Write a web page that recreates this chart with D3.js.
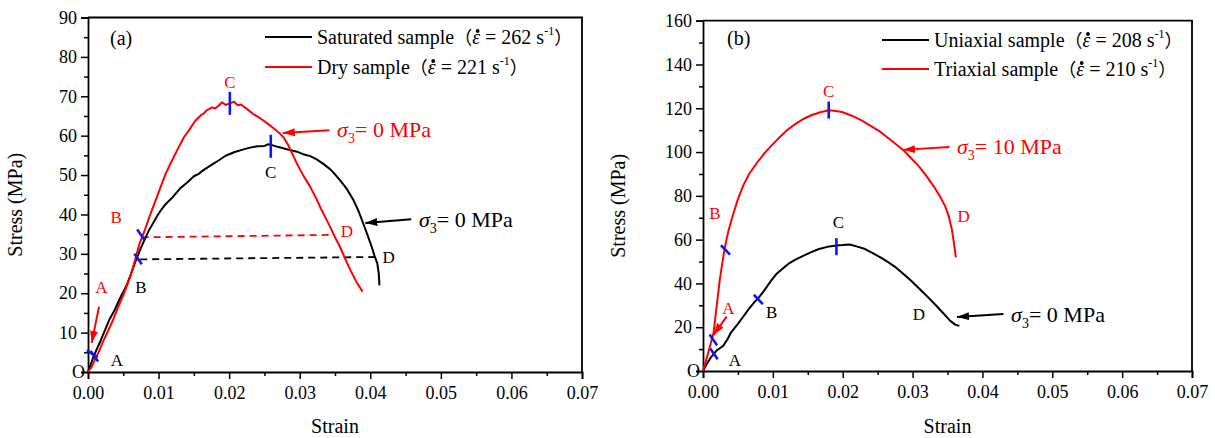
<!DOCTYPE html>
<html><head><meta charset="utf-8">
<script src="https://cdn.jsdelivr.net/npm/d3@7"></script>
<style>body{margin:0;background:#fff} svg{display:block}</style>
</head><body><svg id="c" width="1215" height="438"></svg>
<script>
// ---------- data ----------
const strainTicks = [0, 0.01, 0.02, 0.03, 0.04, 0.05, 0.06, 0.07];
const stressTicksA = [10, 20, 30, 40, 50, 60, 70, 80, 90];
const stressTicksB = [20, 40, 60, 80, 100, 120, 140, 160];

// panel (a)
const saturated = [[0,0],[0.0003,1.5],[0.0008,4],[0.0012,5.6],[0.0018,8],[0.0025,11],[0.003,13.2],[0.0038,15.8],[0.0045,18.6],[0.0054,21.7],[0.006,24.5],[0.0068,28.4],[0.0075,31.5],[0.0082,34.3],[0.0087,36.2],[0.0092,37.7],[0.0098,39.6],[0.0103,41],[0.011,42.6],[0.012,44.4],[0.013,46.5],[0.0141,48.2],[0.015,49.7],[0.0157,50.3],[0.0163,51.2],[0.0175,52.6],[0.0185,53.7],[0.0195,54.9],[0.0207,55.8],[0.0218,56.4],[0.0228,56.9],[0.024,57.3],[0.025,57.4],[0.0255,57.8],[0.0261,57.6],[0.027,57.1],[0.0283,56.5],[0.0295,56],[0.0305,55.3],[0.0315,54.8],[0.0324,54.0],[0.0333,52.9],[0.0343,51.5],[0.035,50.2],[0.0357,48.7],[0.0367,46.4],[0.0376,43.7],[0.0383,41],[0.039,37.7],[0.0396,34.8],[0.0402,31.8],[0.0406,29.5],[0.041,27.5],[0.0412,25],[0.0413,22]];
const dry = [[0,0],[0.0005,1.2],[0.001,3.2],[0.0015,5],[0.002,7.2],[0.0027,9.9],[0.0035,13],[0.0043,16.6],[0.005,19.5],[0.006,24.2],[0.0066,28],[0.0073,32.6],[0.008,35.8],[0.0087,39.4],[0.0095,43.2],[0.0103,47],[0.011,50.3],[0.0116,52.6],[0.012,54],[0.0128,56.9],[0.0136,59.6],[0.0144,61.6],[0.0152,63.8],[0.016,65.2],[0.0164,65.6],[0.0168,66.4],[0.0176,67.2],[0.018,66.9],[0.0185,67.6],[0.019,68.5],[0.0195,67.8],[0.0201,68.2],[0.0207,68.6],[0.0212,67.7],[0.0217,67.9],[0.0225,66.8],[0.0234,65.5],[0.0245,64.3],[0.0255,63],[0.0263,61.9],[0.0271,60.7],[0.0277,59.6],[0.0284,57.5],[0.029,55.2],[0.0298,52.2],[0.0306,49.6],[0.0315,47],[0.0323,44.2],[0.033,41.5],[0.0337,39],[0.0343,36.9],[0.035,34.2],[0.0357,31.8],[0.0365,28.5],[0.0372,25.8],[0.038,23],[0.0389,20.4]];
const unloadDry = [[0.0076, 34.2], [0.0345, 34.8]];
const unloadSat = [[0.0074, 28.6], [0.0411, 29.2]];
const legendNamesA = ["Saturated sample", "Dry sample"];
const legendRatesA = [262, 221];
const marksA = [[0.0006, 4.6, "a"], [0.0009, 4.0, "s"], [0.0075, 34.8, "s"], [0.0071, 28.7, "s"], [0.0201, 68.2, "v"], [0.0259, 57.3, "v"]];
const pointLabelsA = [["A", 0.0019, 21.7, "red"], ["A", 0.0041, 3.0, "black"], ["B", 0.0040, 39.4, "red"], ["B", 0.0075, 21.7, "black"], ["C", 0.0201, 73.5, "red"], ["C", 0.0259, 50.8, "black"], ["D", 0.0367, 35.8, "red"], ["D", 0.0426, 29.3, "black"]];
const arrowsA = [[0.00156, 16.6, 0.00052, 7.4, "red"], [0.0342, 61.4, 0.0276, 60.7, "red"], [0.0458, 38.8, 0.0393, 37.8, "black"]];
const sigmaA = [[0.0353, 61.4, "0", "red"], [0.0469, 38.6, "0", "black"]];

// panel (b)
const uniaxial = [[0,0],[0.0005,3],[0.0011,6.1],[0.0015,7.6],[0.002,9.5],[0.0029,11.5],[0.0035,14.5],[0.004,17.5],[0.005,21.5],[0.0058,25],[0.0066,28.5],[0.0073,31.2],[0.008,33.6],[0.0087,36.5],[0.0094,39.7],[0.01,42.3],[0.0105,44.3],[0.0113,46.5],[0.0122,48.9],[0.0133,51],[0.0144,52.7],[0.0155,54.3],[0.0166,55.7],[0.0178,56.7],[0.0191,57.3],[0.02,57.5],[0.021,57.8],[0.0221,56.8],[0.0232,55.7],[0.0243,53.8],[0.0254,51.9],[0.0265,49.7],[0.0276,47.3],[0.0287,44.3],[0.0298,41.2],[0.0309,37.8],[0.032,34.4],[0.0332,30.5],[0.0343,26.7],[0.0354,22.9],[0.0361,21.2],[0.0367,20.6]];
const triaxial = [[0,0],[0.0004,4.5],[0.0008,9],[0.0015,17.2],[0.0019,28],[0.0024,41.6],[0.0028,50],[0.0031,56],[0.0036,63.5],[0.0043,71.5],[0.005,78.5],[0.0058,85],[0.0066,90],[0.0077,95],[0.0088,99.5],[0.0099,103.3],[0.011,106.9],[0.0121,110.2],[0.0133,113],[0.0144,115.2],[0.0155,116.8],[0.0168,118.2],[0.018,119.1],[0.019,118.8],[0.0199,118.3],[0.0213,116.6],[0.0227,114.5],[0.024,112],[0.0254,109.2],[0.027,105.2],[0.0287,100.8],[0.0298,97.2],[0.031,93.1],[0.032,89],[0.0331,84],[0.034,79.3],[0.0347,75],[0.0352,70.5],[0.0356,65],[0.0359,59],[0.0362,51.9]];
const legendNamesB = ["Uniaxial sample", "Triaxial sample"];
const legendRatesB = [208, 210];
const marksB = [[0.00157, 7.8, "s"], [0.00148, 14.2, "s"], [0.00322, 55.3, "b"], [0.00792, 32.7, "b"], [0.0180, 119.2, "v"], [0.0191, 56.8, "v"]];
const pointLabelsB = [["A", 0.00363, 28.6, "red"], ["A", 0.00458, 5.0, "black"], ["B", 0.0017, 72.0, "red"], ["B", 0.00983, 27.1, "black"], ["C", 0.0180, 128, "red"], ["C", 0.0194, 67.9, "black"], ["D", 0.0373, 71, "red"], ["D", 0.0309, 26, "black"]];
const arrowsB = [[0.00339, 24.8, 0.00148, 16.4, "red"], [0.03527, 102.3, 0.02863, 101, "red"], [0.04301, 26, 0.03636, 24.7, "black"]];
const sigmaB = [[0.03636, 102.3, "10", "red"], [0.0441, 25.6, "0", "black"]];

// ---------- drawing ----------
const RED = "#ff0000", BLUE = "#1414f0";
const FONT = "'Liberation Serif','Times New Roman',serif";
const svg = d3.select("#c");
const defs = svg.append("defs");
[["red", RED], ["black", "#000"]].forEach(([k, c]) => {
  defs.append("marker").attr("id", "ah-" + k).attr("markerUnits", "userSpaceOnUse")
    .attr("markerWidth", 14).attr("markerHeight", 10).attr("refX", 12).attr("refY", 4)
    .attr("orient", "auto")
    .append("path").attr("d", "M0,0 L12,4 L0,8 Z").attr("fill", c);
});

function panel(cfg) {
  const x = d3.scaleLinear().domain([0, 0.07]).range([cfg.left, cfg.right]);
  const y = d3.scaleLinear().domain([0, cfg.ymax]).range([cfg.bottom, cfg.top]);
  const g = svg.append("g");

  // minor ticks
  const xMinor = d3.range(0.005, 0.07, 0.01);
  const yMinor = d3.range(cfg.ystep / 2, cfg.ymax, cfg.ystep);
  g.append("g").attr("transform", `translate(0,${cfg.bottom})`)
    .call(d3.axisBottom(x).tickValues(xMinor).tickSize(4).tickFormat(""))
    .call(a => a.select(".domain").remove());
  g.append("g").attr("transform", `translate(${cfg.left},0)`)
    .call(d3.axisLeft(y).tickValues(yMinor).tickSize(4).tickFormat(""))
    .call(a => a.select(".domain").remove());

  // major axes
  g.append("g").attr("transform", `translate(0,${cfg.bottom})`)
    .call(d3.axisBottom(x).tickValues(strainTicks).tickSize(7).tickPadding(7).tickFormat(d3.format(".2f")));
  g.append("g").attr("transform", `translate(${cfg.left},0)`)
    .call(d3.axisLeft(y).tickValues(cfg.yticks).tickSize(7).tickPadding(4).tickFormat(d3.format("d")));
  g.selectAll(".tick line").attr("stroke", "#000").attr("stroke-width", 1.5);
  g.selectAll(".domain").attr("stroke", "#000").attr("stroke-width", 1.8);
  g.selectAll(".tick text").attr("font-family", FONT).attr("font-size", 18).attr("fill", "#000");

  // frame top/right
  g.append("path").attr("d", `M${cfg.left},${cfg.top}H${cfg.right}V${cfg.bottom}`)
    .attr("fill", "none").attr("stroke", "#000").attr("stroke-width", 1.8);

  // axis titles
  g.append("text").attr("x", (cfg.left + cfg.right) / 2).attr("y", 433)
    .attr("text-anchor", "middle").attr("font-family", FONT).attr("font-size", 20).text("Strain");
  g.append("text").attr("transform", `translate(${cfg.left - cfg.ytitleOff},${(cfg.top + cfg.bottom) / 2 + 10}) rotate(-90)`)
    .attr("text-anchor", "middle").attr("font-family", FONT).attr("font-size", 20).text("Stress (MPa)");

  // dashed unloading lines
  const line = d3.line().x(d => x(d[0])).y(d => y(d[1]));
  (cfg.dashes || []).forEach(([data, col]) => {
    g.append("path").attr("d", line(data)).attr("fill", "none").attr("stroke", col)
      .attr("stroke-width", 1.8).attr("stroke-dasharray", "7,5");
  });

  // curves
  cfg.series.forEach(([data, col]) => {
    g.append("path").attr("d", line(data)).attr("fill", "none").attr("stroke", col)
      .attr("stroke-width", 2).attr("stroke-linejoin", "round");
  });

  // blue marks
  const kinds = { v: [90, cfg.vlen], s: [55, 13], a: [35, 13], b: [46, 13] };
  cfg.marks.forEach(([mx, my, k]) => {
    const [ang, len] = kinds[k];
    const r = ang * Math.PI / 180, dx = Math.cos(r) * len / 2, dy = Math.sin(r) * len / 2;
    g.append("line").attr("x1", x(mx) - dx).attr("y1", y(my) - dy)
      .attr("x2", x(mx) + dx).attr("y2", y(my) + dy)
      .attr("stroke", BLUE).attr("stroke-width", 2.6);
  });

  // arrows
  cfg.arrows.forEach(([x1, y1, x2, y2, col]) => {
    g.append("line").attr("x1", x(x1)).attr("y1", y(y1)).attr("x2", x(x2)).attr("y2", y(y2))
      .attr("stroke", col === "red" ? RED : "#000").attr("stroke-width", 2)
      .attr("marker-end", `url(#ah-${col})`);
  });

  // point labels
  cfg.labels.forEach(([t, lx, ly, col]) => {
    g.append("text").attr("x", x(lx)).attr("y", y(ly) + 6).attr("text-anchor", "middle")
      .attr("font-family", FONT).attr("font-size", 17).attr("fill", col === "red" ? RED : "#000").text(t);
  });
  g.append("text").attr("x", cfg.left - 3).attr("y", cfg.bottom + 6).attr("text-anchor", "end")
    .attr("font-family", FONT).attr("font-size", 18).text("O");

  // sigma annotations
  cfg.sigma.forEach(([sx, sy, val, col]) => {
    const t = g.append("text").attr("x", x(sx)).attr("y", y(sy) + 7)
      .attr("font-family", FONT).attr("font-size", 22).attr("fill", col === "red" ? RED : "#000");
    t.append("tspan").attr("font-style", "italic").text("σ");
    t.append("tspan").attr("font-size", 14).attr("dy", 6).text("3");
    t.append("tspan").attr("dy", -6).text("= " + val + " MPa");
  });

  // panel tag
  g.append("text").attr("x", cfg.tagX).attr("y", 45).attr("font-family", FONT).attr("font-size", 20).text(cfg.tag);

  // legend
  cfg.legend.names.forEach((nm, i) => {
    const ly = cfg.legend.y[i];
    const col = i === 0 ? "#000" : RED;
    g.append("line").attr("x1", cfg.legend.x).attr("x2", cfg.legend.x + 47).attr("y1", ly).attr("y2", ly)
      .attr("stroke", col).attr("stroke-width", 2);
    const t = g.append("text").attr("x", cfg.legend.x + 52).attr("y", ly + 7)
      .attr("font-family", FONT).attr("font-size", 20).attr("fill", "#000");
    t.append("tspan").text(nm);
    t.append("tspan").attr("font-family", "'Noto Sans CJK SC'").attr("font-size", 18).text("（");
    t.append("tspan").attr("font-style", "italic").text("ε");
    t.append("tspan").text(" = " + cfg.legend.rates[i] + " s");
    t.append("tspan").attr("font-size", 12).attr("dy", -9).text("-1");
    t.append("tspan").attr("dy", 9).attr("font-family", "'Noto Sans CJK SC'").attr("font-size", 18).text("）");
    // dot above epsilon
    const idx = nm.length + 1;
    const ext = t.node().getExtentOfChar(idx);
    g.append("circle").attr("cx", ext.x + ext.width / 2 + 1.5).attr("cy", ly - 6).attr("r", 1.9).attr("fill", "#000");
  });
}

panel({
  left: 88, right: 582, top: 17.5, bottom: 372, ymax: 90, ystep: 10, yticks: stressTicksA,
  ytitleOff: 66, vlen: 23, tag: "(a)", tagX: 110,
  series: [[saturated, "#000"], [dry, RED]],
  dashes: [[unloadDry, RED], [unloadSat, "#000"]],
  marks: marksA, arrows: arrowsA, labels: pointLabelsA, sigma: sigmaA,
  legend: { x: 265, y: [37, 67], names: legendNamesA, rates: legendRatesA }
});
panel({
  left: 703, right: 1192, top: 20.7, bottom: 371, ymax: 160, ystep: 20, yticks: stressTicksB,
  ytitleOff: 78, vlen: 17, tag: "(b)", tagX: 727,
  series: [[uniaxial, "#000"], [triaxial, RED]],
  dashes: [],
  marks: marksB, arrows: arrowsB, labels: pointLabelsB, sigma: sigmaB,
  legend: { x: 882, y: [40, 69], names: legendNamesB, rates: legendRatesB }
});
</script></body></html>
